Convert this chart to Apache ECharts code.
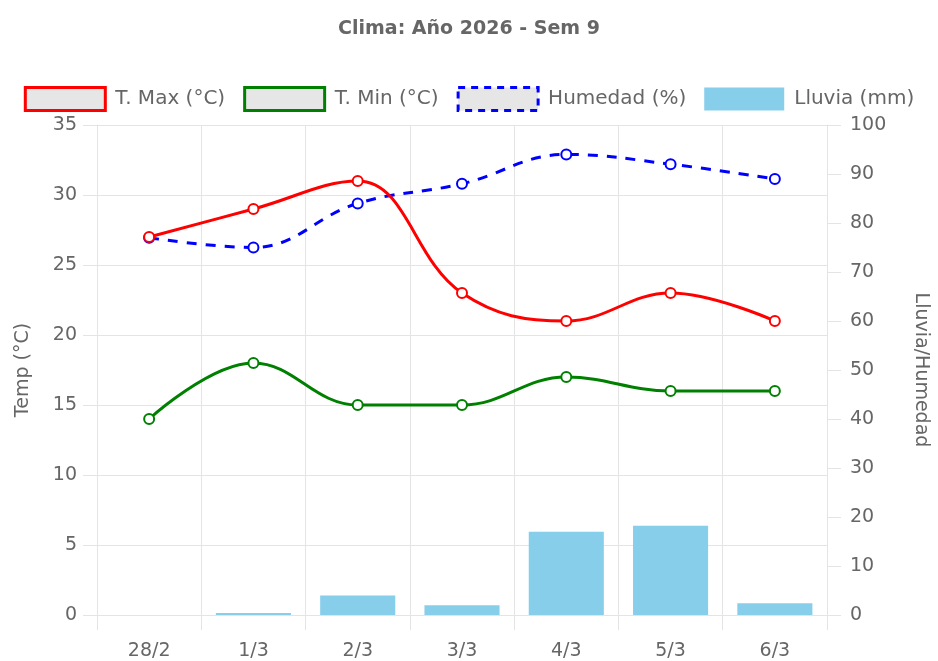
<!DOCTYPE html>
<html>
<head>
<meta charset="utf-8">
<script src="https://cdn.jsdelivr.net/npm/echarts@6/dist/echarts.min.js"></script>
<style>
html,body{margin:0;padding:0;background:#fff;}
#chart{width:938px;height:661px;}
</style>
</head>
<body>
<div id="chart"></div>
<script>
const categories = ['28/2', '1/3', '2/3', '3/3', '4/3', '5/3', '6/3'];
const tMax = [27, 29, 31, 23, 21, 23, 21];
const tMin = [14, 18, 15, 15, 17, 16, 16];
const humedad = [77, 75, 84, 88, 94, 92, 89];
const lluvia = [0, 0.4, 4, 2, 17, 18.2, 2.4];
const titleText = 'Clima: Año 2026 - Sem 9';
const seriesNames = ['T. Max (°C)', 'T. Min (°C)', 'Humedad (%)', 'Lluvia (mm)'];

const FONT = 'DejaVu Sans';
const TXT = '#666';
const GRID = '#e4e4e4';

const chart = echarts.init(document.getElementById('chart'), null, {renderer: 'canvas'});
chart.setOption({
  animation: false,
  backgroundColor: '#fff',
  textStyle: {fontFamily: FONT, color: TXT},
  title: {
    text: titleText,
    left: 'center',
    top: 15,
    textStyle: {fontFamily: FONT, fontSize: 19, fontWeight: 'bold', color: TXT}
  },
  legend: {
    top: 81,
    left: 'center',
    icon: 'rect',
    itemWidth: 80,
    itemHeight: 23,
    itemGap: 18,
    textStyle: {fontFamily: FONT, fontSize: 20, color: TXT, padding: [0, 0, 0, 5]},
    data: [
      {name: seriesNames[0], itemStyle: {color: '#e6e6e6', borderColor: '#ff0000', borderWidth: 3}},
      {name: seriesNames[1], itemStyle: {color: '#e6e6e6', borderColor: '#008000', borderWidth: 3}},
      {name: seriesNames[2], itemStyle: {color: '#e6e6e6', borderColor: '#0000ff', borderWidth: 3, borderType: [7, 6]}},
      {name: seriesNames[3], itemStyle: {color: '#87ceeb', borderWidth: 0}}
    ]
  },
  grid: {left: 97, right: 100, top: 125, bottom: 44, containLabel: false},
  xAxis: {
    type: 'category',
    data: categories,
    boundaryGap: true,
    axisLine: {show: true, lineStyle: {color: GRID, width: 1}},
    axisTick: {show: true, length: 15, lineStyle: {color: GRID}},
    axisLabel: {fontFamily: FONT, fontSize: 19, color: TXT, margin: 27},
    splitLine: {show: true, lineStyle: {color: GRID, width: 1}}
  },
  yAxis: [
    {
      type: 'value',
      min: 0, max: 35, interval: 5,
      name: 'Temp (°C)',
      nameLocation: 'middle',
      nameGap: 64,
      nameRotate: 90,
      nameTextStyle: {fontFamily: FONT, fontSize: 19, color: TXT},
      axisLine: {show: true, lineStyle: {color: GRID}},
      axisTick: {show: true, length: 14, lineStyle: {color: GRID}},
      axisLabel: {fontFamily: FONT, fontSize: 19, color: TXT, margin: 20},
      splitLine: {show: true, lineStyle: {color: GRID, width: 1}}
    },
    {
      type: 'value',
      min: 0, max: 100, interval: 10,
      position: 'right',
      name: 'Lluvia/Humedad',
      nameLocation: 'middle',
      nameGap: 84,
      nameRotate: -90,
      nameTextStyle: {fontFamily: FONT, fontSize: 19, color: TXT},
      axisLine: {show: true, lineStyle: {color: GRID}},
      axisTick: {show: true, length: 14, lineStyle: {color: GRID}},
      axisLabel: {fontFamily: FONT, fontSize: 19, color: TXT, margin: 23},
      splitLine: {show: false}
    }
  ],
  series: [
    {
      name: seriesNames[3],
      type: 'bar',
      yAxisIndex: 1,
      data: lluvia,
      barWidth: '72%',
      itemStyle: {color: '#87ceeb'},
      z: 1
    },
    {
      name: seriesNames[2],
      type: 'line',
      yAxisIndex: 1,
      data: humedad,
      smooth: 0.4,
      symbol: 'emptyCircle',
      symbolSize: 10,
      lineStyle: {color: '#0000ff', width: 3, type: [10, 9]},
      itemStyle: {color: '#0000ff', borderColor: '#0000ff', borderWidth: 3},
      z: 3
    },
    {
      name: seriesNames[1],
      type: 'line',
      yAxisIndex: 0,
      data: tMin,
      smooth: 0.4,
      symbol: 'emptyCircle',
      symbolSize: 10,
      lineStyle: {color: '#008000', width: 3},
      itemStyle: {color: '#008000', borderColor: '#008000', borderWidth: 3},
      z: 4
    },
    {
      name: seriesNames[0],
      type: 'line',
      yAxisIndex: 0,
      data: tMax,
      smooth: 0.4,
      symbol: 'emptyCircle',
      symbolSize: 10,
      lineStyle: {color: '#ff0000', width: 3},
      itemStyle: {color: '#ff0000', borderColor: '#ff0000', borderWidth: 3},
      z: 5
    }
  ]
});
</script>
</body>
</html>
